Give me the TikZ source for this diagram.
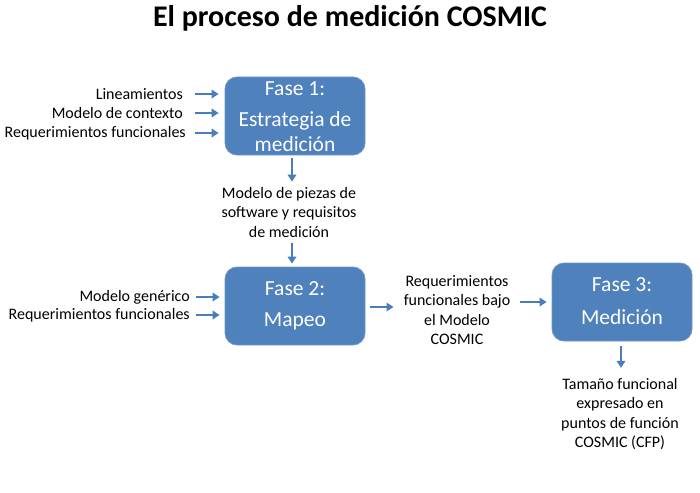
\documentclass[tikz,border=0pt]{standalone}
\usepackage{fontspec}
\setmainfont{Carlito}
\usetikzlibrary{arrows, arrows.meta}
\usetikzlibrary{positioning, calc}
\definecolor{faseblue}{HTML}{4F81BD}
\definecolor{faseline}{HTML}{6D97CC}
\definecolor{arrowblue}{HTML}{4A7EBB}

\tikzset{
  fase/.style={draw=faseline, line width=0.8pt, fill=faseblue, rounded corners=12pt,
    minimum width=140pt, text=white, align=center},
  fasetxt/.style={font=\fontsize{21.5}{25}\selectfont},
  etiq/.style={font=\fontsize{16}{19.5}\selectfont, align=center, inner sep=0pt},
  flecha/.style={-{Triangle[length=7pt, width=8.5pt]}, line width=2.2pt, arrowblue},
}

\begin{document}
\begin{tikzpicture}[>=stealth, x=1pt, y=-1pt]
    \useasboundingbox (0, 0) rectangle (700, 492);

    \node[font=\bfseries\fontsize{30}{36}\selectfont] (titulo) at (350, 18) {El proceso de medición COSMIC};

    % fases
    \node[fase, minimum height=78pt] (f1) at (295, 116) {};
    \node[fasetxt, text=white] (f1a) at (295, 89) {Fase 1:};
    \node[fasetxt, text=white, align=center] (f1b) at (295, 132) {Estrategia de\\medición};

    \node[fase, minimum height=78pt] (f2) at (295, 306) {};
    \node[fasetxt, text=white] (f2a) at (295, 289) {Fase 2:};
    \node[fasetxt, text=white] (f2b) at (295, 321) {Mapeo};

    \node[fase, minimum height=78pt] (f3) at (622, 302) {};
    \node[fasetxt, text=white] (f3a) at (622, 285) {Fase 3:};
    \node[fasetxt, text=white] (f3b) at (622, 317) {Medición};

    % entradas fase 1
    \node[etiq, anchor=east] (lin) at (183, 94) {Lineamientos};
    \node[etiq, anchor=east] (ctx) at (183, 113) {Modelo de contexto};
    \node[etiq, anchor=east] (req1) at (186, 133) {Requerimientos funcionales};
    \draw[flecha, shorten >=6pt] ($(lin.east)+(12,0)$) -- (lin.east -| f1.west);
    \draw[flecha, shorten >=6pt] ($(ctx.east)+(12,0)$) -- (ctx.east -| f1.west);
    \draw[flecha, shorten >=6pt] ($(req1.east)+(9,0)$) -- (req1.east -| f1.west);

    % salida fase 1
    \node[etiq] (piezas) at (289, 212) {Modelo de piezas de\\software y requisitos\\de medición};
    \draw[flecha, shorten <=3pt, shorten >=5pt] (f1.south -| 292, 0) -- (piezas.north -| 292, 0);
    \draw[flecha, shorten <=6pt, shorten >=3pt] (piezas.south -| 292, 0) -- (f2.north -| 292, 0);

    % entradas fase 2
    \node[etiq, anchor=east] (gen) at (190, 297) {Modelo genérico};
    \node[etiq, anchor=east] (req2) at (190, 315) {Requerimientos funcionales};
    \draw[flecha, shorten >=5pt] ($(gen.east)+(6,0)$) -- (gen.east -| f2.west);
    \draw[flecha, shorten >=5pt] ($(req2.east)+(6,0)$) -- (req2.east -| f2.west);

    % salida fase 2
    \node[etiq] (bajo) at (457, 310) {Requerimientos\\funcionales bajo\\el Modelo\\COSMIC};
    \draw[flecha, shorten <=5pt, shorten >=10pt] (f2.east |- 0, 307) -- (bajo.west |- 0, 307);
    \draw[flecha, shorten <=10pt, shorten >=5pt] (bajo.east |- 0, 302) -- (f3.west |- 0, 302);

    % salida fase 3
    \node[etiq] (cfp) at (620, 414) {Tamaño funcional\\expresado en\\puntos de función\\COSMIC (CFP)};
    \draw[flecha, shorten <=5pt, shorten >=10pt] (f3.south -| 621, 0) -- (cfp.north -| 621, 0);

\end{tikzpicture}
\end{document}
